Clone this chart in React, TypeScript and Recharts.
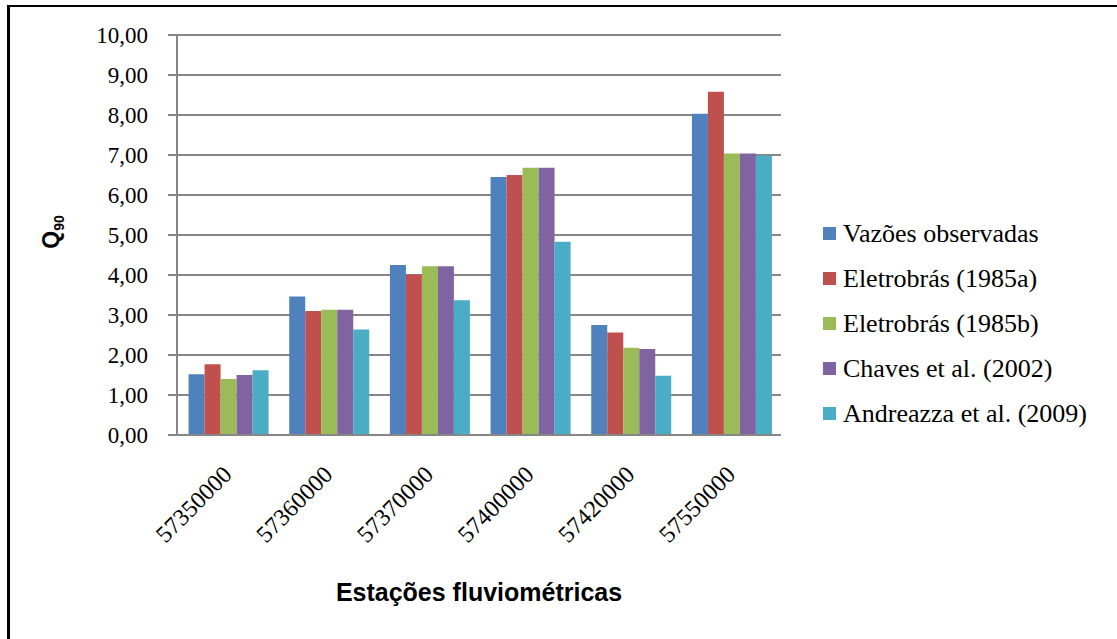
import React from "react";
import {
  BarChart,
  Bar,
  XAxis,
  YAxis,
  CartesianGrid,
} from "recharts";

// estações e séries (Q90)
const stations = ["57350000", "57360000", "57370000", "57400000", "57420000", "57550000"];
const observadas = [1.52, 3.46, 4.25, 6.45, 2.75, 8.03];
const eletro85a = [1.77, 3.1, 4.01, 6.5, 2.56, 8.58];
const eletro85b = [1.4, 3.13, 4.22, 6.68, 2.18, 7.04];
const chaves2002 = [1.5, 3.13, 4.22, 6.68, 2.15, 7.04];
const andreazza2009 = [1.62, 2.64, 3.37, 4.83, 1.48, 6.99];
const yTicks = [0, 1, 2, 3, 4, 5, 6, 7, 8, 9, 10];

const SERIES = [
  { key: "obs", name: "Vazões observadas", color: "#4F81BD", values: observadas },
  { key: "e85a", name: "Eletrobrás (1985a)", color: "#C0504D", values: eletro85a },
  { key: "e85b", name: "Eletrobrás (1985b)", color: "#9BBB59", values: eletro85b },
  { key: "chaves", name: "Chaves et al. (2002)", color: "#8064A2", values: chaves2002 },
  { key: "andr", name: "Andreazza et al. (2009)", color: "#4BACC6", values: andreazza2009 },
];

const data = stations.map((s, i) => {
  const row: { [k: string]: string | number } = { station: s };
  SERIES.forEach((ser) => {
    row[ser.key] = ser.values[i];
  });
  return row;
});

const SERIF = "'Liberation Serif', 'Times New Roman', serif";
const SANS = "'Liberation Sans', Arial, sans-serif";

const XTick = (props: any) => {
  const { x, y, payload } = props;
  const ax = x + 6;
  const ay = y + 41;
  return (
    <text
      x={ax}
      y={ay}
      textAnchor="end"
      transform={`rotate(-45, ${ax}, ${ay})`}
      fontFamily={SERIF}
      fontSize={24}
      fill="#000"
    >
      {payload.value}
    </text>
  );
};

const YLabel = () => {
  const lx = 59;
  const ly = 232;
  return (
    <text
      x={lx}
      y={ly}
      textAnchor="middle"
      transform={`rotate(-90, ${lx}, ${ly})`}
      fontFamily={SANS}
      fontWeight="bold"
      fontSize={23}
      fill="#000"
    >
      Q<tspan dy={5} fontSize={14}>90</tspan>
    </text>
  );
};

export default function App() {
  return (
    <div
      style={{
        position: "absolute",
        left: 0,
        top: 0,
        width: 1117,
        height: 639,
        background: "#fff",
        overflow: "hidden",
      }}
    >
      {/* moldura: só topo e esquerda */}
      <div
        style={{
          position: "absolute",
          left: 7,
          top: 5,
          width: 1110,
          height: 634,
          borderTop: "2px solid #000",
          borderLeft: "3px solid #000",
          boxSizing: "border-box",
        }}
      />
      <BarChart
        width={1117}
        height={639}
        data={data}
        margin={{ top: 35, right: 336, left: 77, bottom: 24 }}
        barCategoryGap="11.5%"
        barGap={0}
        style={{ position: "absolute", left: 0, top: 0 }}
      >
        <CartesianGrid vertical={false} stroke="#868686" strokeWidth={2} />
        <XAxis
          dataKey="station"
          height={180}
          tickLine={false}
          tickSize={0}
          tickMargin={0}
          axisLine={{ stroke: "#868686", strokeWidth: 2 }}
          tick={<XTick />}
          interval={0}
          label={{
            value: "Estações fluviométricas",
            position: "insideBottom",
            offset: 14,
            style: { fontFamily: SANS, fontWeight: "bold", fontSize: 25, fill: "#000" },
          }}
        />
        <YAxis
          width={100}
          domain={[0, 10]}
          ticks={yTicks}
          interval={0}
          tickSize={9}
          tickMargin={20}
          axisLine={{ stroke: "#868686", strokeWidth: 2 }}
          tickLine={{ stroke: "#868686", strokeWidth: 2 }}
          tickFormatter={(v: number) => v.toFixed(2).replace(".", ",")}
          tick={{ fontFamily: SERIF, fontSize: 23, fill: "#000" }}
          label={{ content: <YLabel /> }}
        />
        {SERIES.map((s) => (
          <Bar
            key={s.key}
            dataKey={s.key}
            name={s.name}
            fill={s.color}
            isAnimationActive={false}
          />
        ))}
      </BarChart>
      {/* legenda */}
      <div style={{ position: "absolute", left: 823, top: 211 }}>
        {SERIES.map((s) => (
          <div
            key={s.key}
            style={{ display: "flex", alignItems: "center", height: 45 }}
          >
            <span
              style={{
                display: "inline-block",
                width: 13,
                height: 13,
                background: s.color,
                marginRight: 7,
              }}
            />
            <span style={{ fontFamily: SERIF, fontSize: 26, color: "#000", whiteSpace: "nowrap" }}>
              {s.name}
            </span>
          </div>
        ))}
      </div>
    </div>
  );
}
